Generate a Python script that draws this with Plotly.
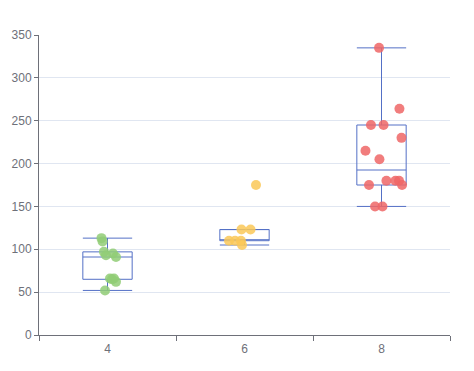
import plotly.graph_objects as go

categories = ["4", "6", "8"]
hp_4 = [113, 109, 97, 93, 95, 91, 66, 66, 65, 62, 52]
hp_6 = [175, 123, 123, 110, 110, 110, 105]
hp_8 = [335, 264, 245, 245, 230, 215, 205, 175, 180, 180, 180, 175, 150, 150]
# horizontal jitter (in category units)
jit_4 = [-0.044, -0.036, -0.026, -0.011, 0.040, 0.062, 0.018, 0.047, 0.033, 0.062, -0.018]
jit_6 = [0.084, -0.022, 0.044, -0.113, -0.069, -0.026, -0.018]
jit_8 = [-0.018, 0.131, -0.077, 0.015, 0.146, -0.117, -0.015, -0.091, 0.036, 0.102, 0.128, 0.150, -0.047, 0.007]

groups = [hp_4, hp_6, hp_8]
jitters = [jit_4, jit_6, jit_8]
colors = ["#91cc75", "#fac858", "#ee6666"]


def median(s):
    n = len(s)
    return s[n // 2] if n % 2 else (s[n // 2 - 1] + s[n // 2]) / 2


def box_stats(vals):
    s = sorted(vals)
    n = len(s)
    lower = s[: n // 2]
    upper = s[(n + 1) // 2:]
    q1, med, q3 = median(lower), median(s), median(upper)
    iqr = q3 - q1
    lf = min(v for v in s if v >= q1 - 1.5 * iqr)
    uf = max(v for v in s if v <= q3 + 1.5 * iqr)
    return q1, med, q3, lf, uf


fig = go.Figure()
for i, vals in enumerate(groups):
    q1, med, q3, lf, uf = box_stats(vals)
    fig.add_trace(go.Box(
        x=[i], q1=[q1], median=[med], q3=[q3], lowerfence=[lf], upperfence=[uf],
        boxpoints=False, width=0.36, whiskerwidth=1,
        line=dict(color="#5470c6", width=1), fillcolor="rgba(255,255,255,0)",
        hoverinfo="skip", showlegend=False))
for i, (vals, jit) in enumerate(zip(groups, jitters)):
    fig.add_trace(go.Scatter(
        x=[i + j for j in jit], y=vals, mode="markers",
        marker=dict(color=colors[i], size=10, opacity=0.85, line=dict(width=0)),
        showlegend=False))

axis_color = "#6E7079"
fig.update_layout(
    width=466, height=363,
    margin=dict(l=31, r=24, t=27, b=36),
    paper_bgcolor="white", plot_bgcolor="white",
    font=dict(family="Liberation Sans, Arial, sans-serif", size=12, color=axis_color),
    xaxis=dict(
        range=[-0.5, 2.5], tickmode="array", tickvals=[0, 1, 2], ticktext=categories,
        ticks="", showgrid=False, zeroline=False, automargin=False,
        showline=True, linecolor=axis_color, linewidth=1, ticklabelstandoff=3,
        minor=dict(tickmode="array", tickvals=[-0.5, 0.5, 1.5, 2.5], ticks="outside",
                   ticklen=5, tickcolor=axis_color, tickwidth=1, showgrid=False),
        tickfont=dict(size=12, color=axis_color),
    ),
    yaxis=dict(
        range=[0, 350], tickmode="linear", tick0=0, dtick=50,
        showgrid=True, gridcolor="#E0E6F1", gridwidth=1, zeroline=False, automargin=False,
        showline=True, linecolor=axis_color, linewidth=1,
        ticks="outside", ticklen=4, tickcolor=axis_color,
        tickfont=dict(size=12, color=axis_color),
    ),
)

fig.write_html("out.html")
